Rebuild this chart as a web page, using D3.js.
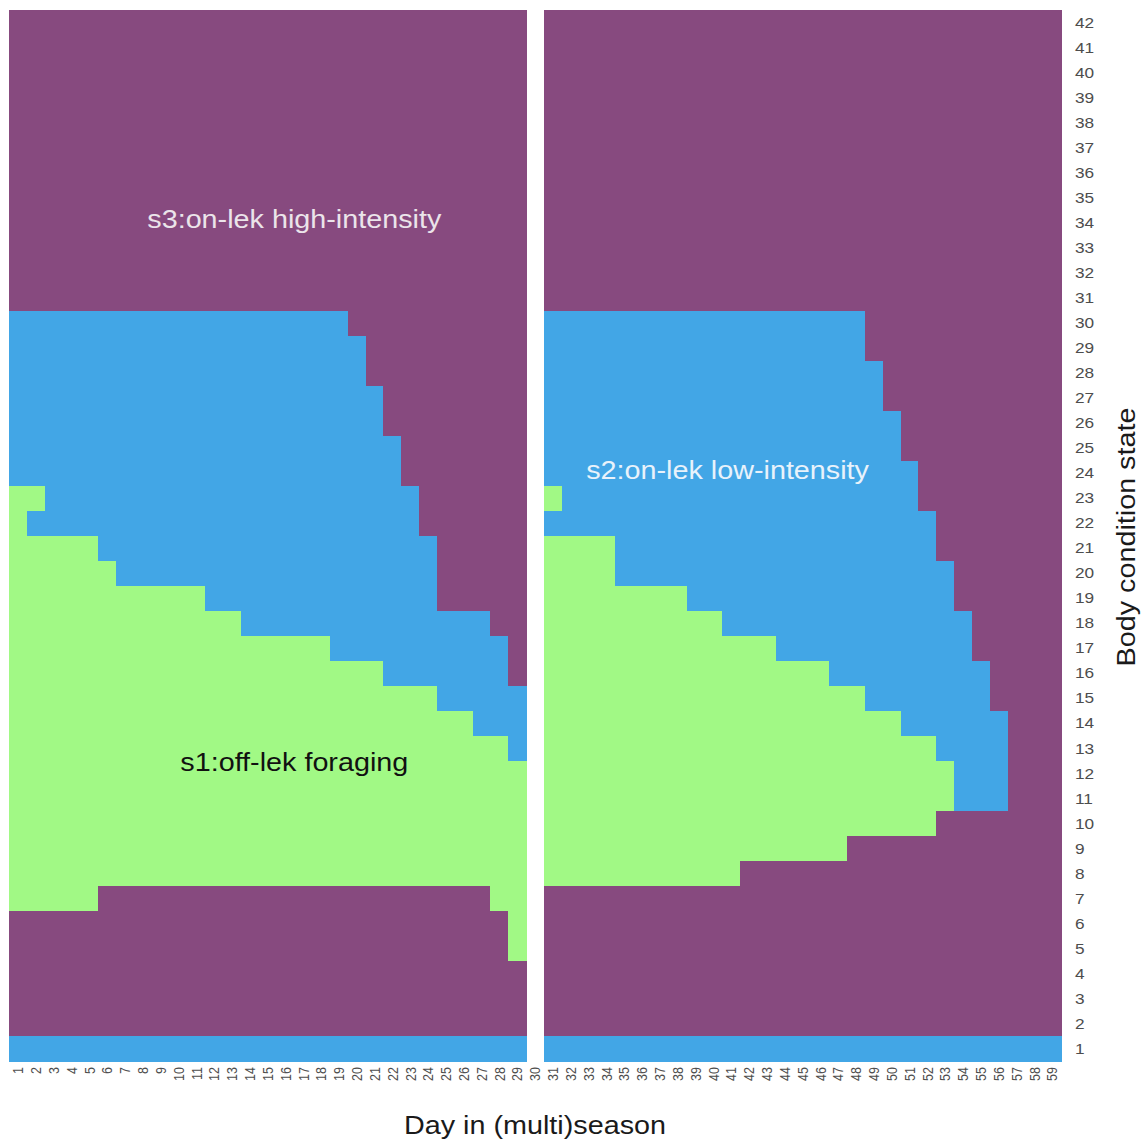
<!DOCTYPE html>
<html>
<head>
<meta charset="utf-8">
<script src="https://cdn.jsdelivr.net/npm/d3@7/dist/d3.min.js"></script>
<style>
  body { margin: 0; background: #fff; }
  svg { display: block; font-family: "Liberation Sans", Arial, sans-serif; }
</style>
</head>
<body>
<script>
// days 1..59, day 30 is left empty (gap between the two seasons)
const days = d3.range(1, 60);
const states = d3.range(1, 43);

// per day: range of states where s1 (off-lek foraging) is chosen, null = none
const s1Bottom = [7, 7, 7, 7, 7, 8, 8, 8, 8, 8, 8, 8, 8, 8, 8, 8, 8, 8, 8, 8, 8, 8, 8, 8, 8, 8, 8, 7, 5, null,
  8, 8, 8, 8, 8, 8, 8, 8, 8, 8, 8, 9, 9, 9, 9, 9, 9, 10, 10, 10, 10, 10, 11, null, null, null, null, null, null];
const s1Top = [23, 21, 21, 21, 21, 20, 19, 19, 19, 19, 19, 18, 18, 17, 17, 17, 17, 17, 16, 16, 16, 15, 15, 15, 14, 14, 13, 13, 12, null,
  21, 21, 21, 21, 19, 19, 19, 19, 18, 18, 17, 17, 17, 16, 16, 16, 15, 15, 14, 14, 13, 13, 12, null, null, null, null, null, null];
// per day: range of states where s2 (on-lek low-intensity) is chosen
const s2Bottom = [24, 22, 22, 22, 22, 21, 20, 20, 20, 20, 20, 19, 19, 18, 18, 18, 18, 18, 17, 17, 17, 16, 16, 16, 15, 15, 14, 14, 13, null,
  22, 22, 22, 22, 20, 20, 20, 20, 19, 19, 18, 18, 18, 17, 17, 17, 16, 16, 15, 15, 14, 14, 13, 11, 11, 11, null, null, null];
const s2Top = [30, 30, 30, 30, 30, 30, 30, 30, 30, 30, 30, 30, 30, 30, 30, 30, 30, 30, 30, 29, 27, 25, 23, 21, 18, 18, 18, 17, 15, null,
  30, 30, 30, 30, 30, 30, 30, 30, 30, 30, 30, 30, 30, 30, 30, 30, 30, 30, 28, 26, 24, 22, 20, 18, 16, 14, null, null, null];
// single s1 cells sitting above the s2 band: [day, state]
const s1Extra = [[2, 23], [31, 23]];
// state 1 always s2
const s2Floor = 1;

const strategyColor = { s1: '#a1f985', s2: '#42a6e6', s3: '#874a7f' };

// annotations in data units: [day, state, text, colour]
const labels = [
  [16.5, 34.15, 's3:on-lek high-intensity', '#ebe4ea'],
  [16.5, 12.45, 's1:off-lek foraging', '#111111'],
  [40.8, 24.1, 's2:on-lek low-intensity', '#e8f2fb']
];

const W = 1142, H = 1143;
const plot = { left: 9, right: 1061, top: 10, bottom: 1061 };
const stretch = 'scale(1.15,1)';

const svg = d3.select('body').append('svg')
  .attr('width', W)
  .attr('height', H);

const x = d3.scaleLinear().domain([0.5, 59.5]).range([plot.left, plot.right]);
const y = d3.scaleLinear().domain([0.5, 42.5]).range([plot.bottom, plot.top]);

function strategy(dayIdx, s) {
  if (s <= s2Floor) return 's2';
  if (s1Extra.some(e => e[0] === days[dayIdx] && e[1] === s)) return 's1';
  if (s1Bottom[dayIdx] != null && s >= s1Bottom[dayIdx] && s <= s1Top[dayIdx]) return 's1';
  if (s2Bottom[dayIdx] != null && s >= s2Bottom[dayIdx] && s <= s2Top[dayIdx]) return 's2';
  return 's3';
}

let cells = [];
days.forEach(function(d, i) {
  if (s1Top[i] == null && s2Top[i] == null && d === 30) return;
  states.forEach(function(s) {
    cells.push({ day: d, state: s, strat: strategy(i, s) });
  });
});

svg.append('g')
  .attr('shape-rendering', 'crispEdges')
  .selectAll('rect')
  .data(cells)
  .join('rect')
  .attr('x', c => x(c.day - 0.5))
  .attr('y', c => y(c.state + 0.5))
  .attr('width', c => x(c.day + 0.5) - x(c.day - 0.5) + 0.5)
  .attr('height', c => y(c.state - 0.5) - y(c.state + 0.5) + 0.5)
  .attr('fill', c => strategyColor[c.strat]);

// axes
let gx = svg.append('g')
  .attr('transform', `translate(0,${plot.bottom})`)
  .call(d3.axisBottom(x).tickValues(days).tickSize(0).tickFormat(d3.format('d')));
gx.select('.domain').remove();
gx.selectAll('text')
  .attr('transform', 'rotate(-90) scale(1,1.1)')
  .attr('text-anchor', 'end')
  .attr('x', -6)
  .attr('y', 0)
  .attr('dy', '0.35em')
  .attr('fill', '#4d4d4d')
  .attr('font-size', 12.5)
  .attr('font-family', '"Liberation Sans", Arial, sans-serif');

let gy = svg.append('g')
  .attr('transform', `translate(${plot.right},0)`)
  .call(d3.axisRight(y).tickValues(states).tickSize(0).tickPadding(0));
gy.select('.domain').remove();
gy.selectAll('text')
  .attr('x', 0)
  .attr('transform', `translate(14,0) ${stretch}`)
  .attr('fill', '#4d4d4d')
  .attr('font-size', 15)
  .attr('font-family', '"Liberation Sans", Arial, sans-serif');

svg.append('text')
  .attr('transform', `translate(${(plot.left + plot.right) / 2},1134) ${stretch}`)
  .attr('text-anchor', 'middle')
  .attr('font-size', 25)
  .attr('fill', '#1a1a1a')
  .text('Day in (multi)season');

svg.append('text')
  .attr('transform', `translate(1135,537) rotate(-90) ${stretch}`)
  .attr('text-anchor', 'middle')
  .attr('font-size', 25)
  .attr('fill', '#1a1a1a')
  .text('Body condition state');

svg.append('g')
  .selectAll('text')
  .data(labels)
  .join('text')
  .attr('transform', l => `translate(${x(l[0])},${y(l[1])}) ${stretch}`)
  .attr('dy', '0.35em')
  .attr('text-anchor', 'middle')
  .attr('font-size', 25)
  .attr('fill', l => l[3])
  .text(l => l[2]);
</script>
</body>
</html>
